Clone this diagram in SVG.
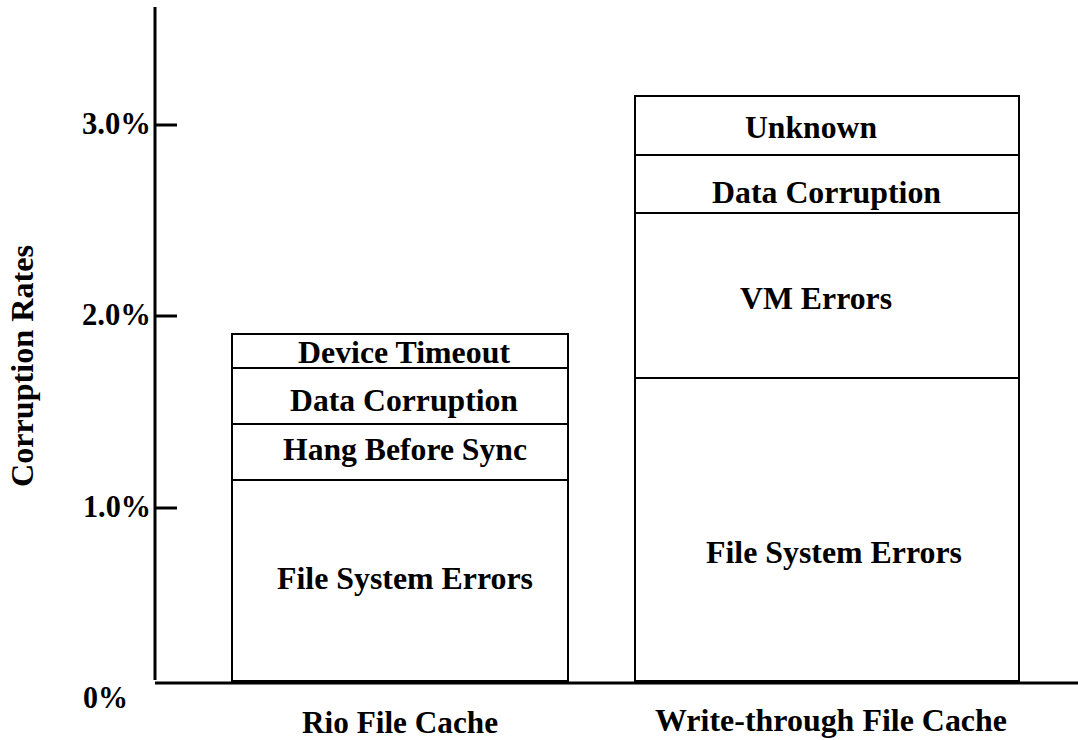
<svg xmlns="http://www.w3.org/2000/svg" width="1078" height="740" viewBox="0 0 1078 740">
<style>
.t{font-family:"Liberation Serif","Times New Roman",serif;font-weight:bold;font-size:32px;fill:#000}
.ax{stroke:#000;stroke-width:3;fill:none}
.bar{stroke:#000;stroke-width:2;fill:#fff}
.div{stroke:#000;stroke-width:2}
</style>
<rect width="1078" height="740" fill="#fff"/>
<g id="axes">
<line class="ax" x1="155" y1="7" x2="155" y2="680"/>
<line class="ax" x1="155" y1="683" x2="1078" y2="683"/>
<line class="ax" x1="155" y1="125" x2="177" y2="125"/>
<line class="ax" x1="155" y1="316" x2="177" y2="316"/>
<line class="ax" x1="155" y1="508" x2="177" y2="508"/>
<text class="t" x="82" y="134" textLength="69" lengthAdjust="spacingAndGlyphs">3.0%</text>
<text class="t" x="82" y="325" textLength="69" lengthAdjust="spacingAndGlyphs">2.0%</text>
<text class="t" x="83" y="517" textLength="68" lengthAdjust="spacingAndGlyphs">1.0%</text>
<text class="t" x="83" y="708" textLength="45" lengthAdjust="spacingAndGlyphs">0%</text>
<text class="t" transform="translate(33,487) rotate(-90)" x="0" y="0" textLength="242" lengthAdjust="spacingAndGlyphs">Corruption Rates</text>
<text class="t" x="302" y="733" textLength="196" lengthAdjust="spacingAndGlyphs">Rio File Cache</text>
<text class="t" x="655" y="731" textLength="352" lengthAdjust="spacingAndGlyphs">Write-through File Cache</text>
</g>
<g id="rio-bar">
<rect class="bar" x="232" y="334" width="336" height="347"/>
<line class="div" x1="232" y1="368" x2="568" y2="368"/>
<line class="div" x1="232" y1="424" x2="568" y2="424"/>
<line class="div" x1="232" y1="480" x2="568" y2="480"/>
<text class="t" x="298" y="363" textLength="212" lengthAdjust="spacingAndGlyphs">Device Timeout</text>
<text class="t" x="290" y="411" textLength="228" lengthAdjust="spacingAndGlyphs">Data Corruption</text>
<text class="t" x="283" y="460" textLength="244" lengthAdjust="spacingAndGlyphs">Hang Before Sync</text>
<text class="t" x="277" y="589" textLength="256" lengthAdjust="spacingAndGlyphs">File System Errors</text>
</g>
<g id="write-through-bar">
<rect class="bar" x="635" y="96" width="384" height="585"/>
<line class="div" x1="635" y1="155" x2="1019" y2="155"/>
<line class="div" x1="635" y1="213" x2="1019" y2="213"/>
<line class="div" x1="635" y1="378" x2="1019" y2="378"/>
<text class="t" x="745" y="138" textLength="132" lengthAdjust="spacingAndGlyphs">Unknown</text>
<text class="t" x="712" y="203" textLength="229" lengthAdjust="spacingAndGlyphs">Data Corruption</text>
<text class="t" x="740" y="309" textLength="152" lengthAdjust="spacingAndGlyphs">VM Errors</text>
<text class="t" x="706" y="563" textLength="256" lengthAdjust="spacingAndGlyphs">File System Errors</text>
</g>
<g id="connectors"></g>
</svg>
